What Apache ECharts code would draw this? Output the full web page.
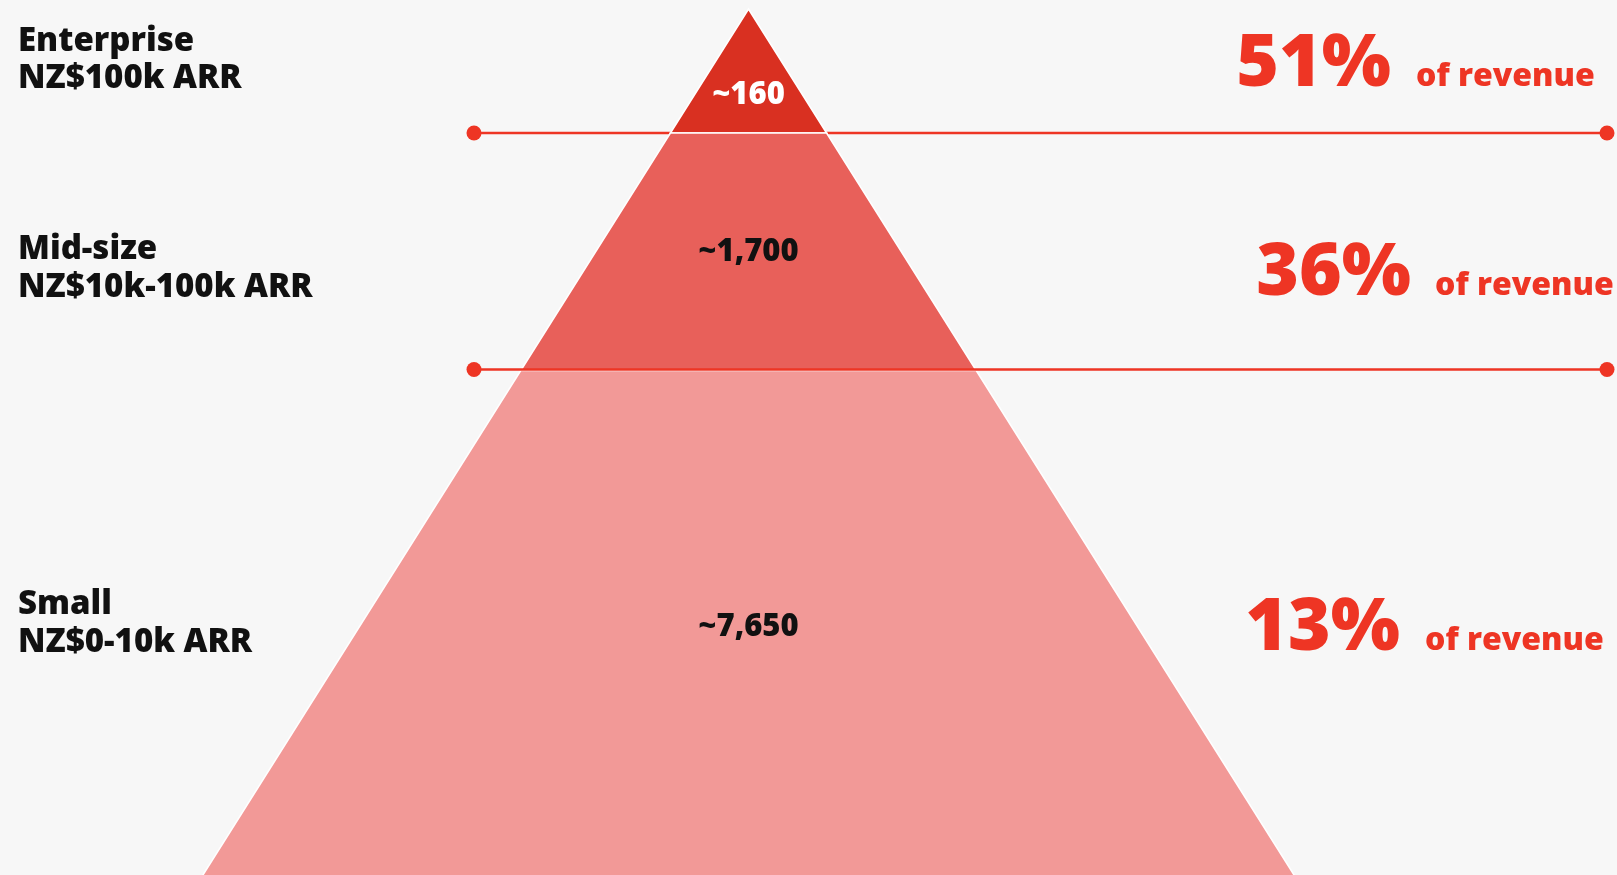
<!DOCTYPE html>
<html><head><meta charset="utf-8">
<script src="https://cdn.jsdelivr.net/npm/echarts@6/dist/echarts.min.js"></script>
<style>html,body{margin:0;padding:0;background:#f7f7f7;overflow:hidden}#c{width:1617px;height:875px}</style>
</head><body><div id="c"></div>
<script>
// ---- data ----
const tierNames = ['Enterprise', 'Mid-size', 'Small'];
const arrBands = ['NZ$100k ARR', 'NZ$10k-100k ARR', 'NZ$0-10k ARR'];
const customerCounts = [160, 1700, 7650];
const revenueShare = [51, 36, 13];
const revenueNote = 'of revenue';

// ---- layout (pixel space of the canvas) ----
const W = 1617, H = 875;
const L = {
  apexX: 748.5, apexY: 9, slope: 0.63,
  bounds: [9, 133, 370.5, 885],
  lineY: [133, 369.5],
  lineX: [474, 1607],
  countBase: [104, 261, 636],
  nameBase: [51, 259, 614], bandBase: [88, 297, 652], labelX: 18,
  revBase: [86, 295, 650], pctRight: [1391, 1411, 1400], ofLeft: [1416, 1435, 1425]
};
const C = {
  tiers: ['#D93021', '#E8605A', '#F29997'],
  count: ['#ffffff', '#111111', '#111111'],
  red: '#EE3524', text: '#111111'
};
const FONT = '"Open Sans", sans-serif';
const WT = 800;
const SZ = { label: 33, count: 31, pct: 73, note: 32 };
const mid = (base, size) => base - 0.285 * size;

const chart = echarts.init(document.getElementById('c'), null, { renderer: 'canvas' });
const hw = y => L.slope * (y - L.apexY);

function tierItem(params, api) {
  const i = params.dataIndex;
  const y0 = L.bounds[i], y1 = L.bounds[i + 1];
  const pts = [
    [L.apexX - hw(y0), y0], [L.apexX + hw(y0), y0],
    [L.apexX + hw(y1), y1], [L.apexX - hw(y1), y1]
  ].map(p => api.coord(p));
  return {
    type: 'polygon',
    shape: { points: pts },
    style: { fill: C.tiers[i], stroke: '#ffffff', lineWidth: 1.6 }
  };
}

function textItem(params, api) {
  const i = params.dataIndex;
  const t = (x, y, text, size, fill, align) => {
    const p = api.coord([x, y]);
    return { type: 'text', style: { text, x: p[0], y: p[1], font: `${WT} ${size}px ${FONT}`, fill, align, verticalAlign: 'middle' } };
  };
  return {
    type: 'group',
    children: [
      t(L.apexX, mid(L.countBase[i], SZ.count), '~' + customerCounts[i].toLocaleString('en-US'), SZ.count, C.count[i], 'center'),
      t(L.labelX, mid(L.nameBase[i], SZ.label), tierNames[i], SZ.label, C.text, 'left'),
      t(L.labelX, mid(L.bandBase[i], SZ.label), arrBands[i], SZ.label, C.text, 'left'),
      t(L.pctRight[i], mid(L.revBase[i], SZ.pct), revenueShare[i] + '%', SZ.pct, C.red, 'right'),
      t(L.ofLeft[i], mid(L.revBase[i], SZ.note), revenueNote, SZ.note, C.red, 'left')
    ]
  };
}

const lineSeries = L.lineY.map((y, k) => ({
  type: 'line',
  data: [[L.lineX[0], y], [L.lineX[1], y]],
  symbol: 'circle', symbolSize: 15, showSymbol: true,
  lineStyle: { color: C.red, width: 2.5 },
  itemStyle: { color: C.red },
  z: k === 0 ? 1 : 3, silent: true
}));

chart.setOption({
  animation: false,
  backgroundColor: '#F7F7F7',
  grid: { left: 0, right: 0, top: 0, bottom: 0 },
  xAxis: { type: 'value', min: 0, max: W, show: false },
  yAxis: { type: 'value', min: 0, max: H, inverse: true, show: false },
  series: [
    lineSeries[0],
    { type: 'custom', renderItem: tierItem, data: tierNames.map((n, i) => [i, i]), z: 2, silent: true },
    lineSeries[1],
    { type: 'custom', renderItem: textItem, data: tierNames.map((n, i) => [i, i]), z: 5, silent: true }
  ]
});
</script></body></html>
